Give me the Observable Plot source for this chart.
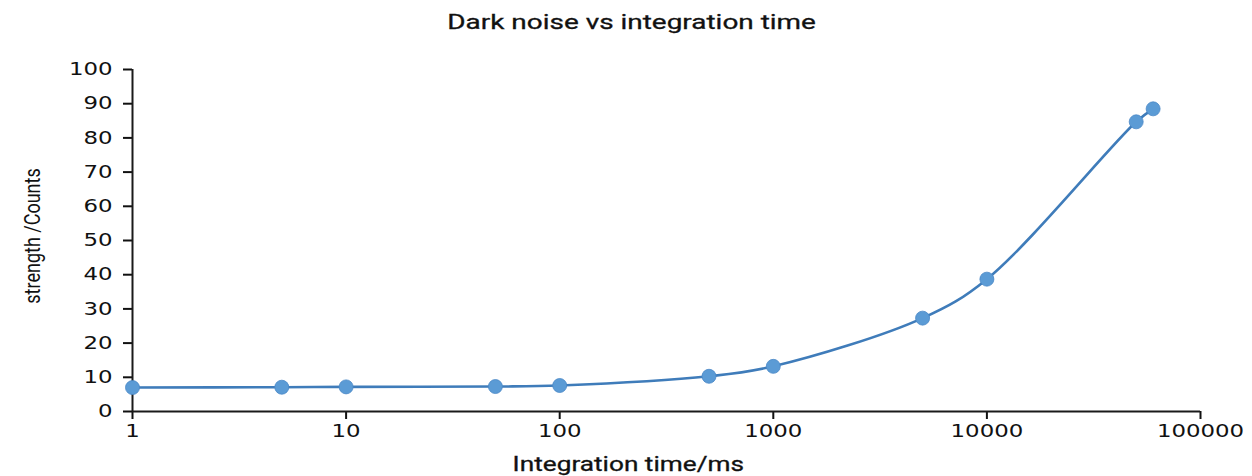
<!DOCTYPE html>
<html>
<head>
<meta charset="utf-8">
<script src="https://cdn.jsdelivr.net/npm/d3@7"></script>
<script src="https://cdn.jsdelivr.net/npm/@observablehq/plot@0.6"></script>
<style>
  html, body { margin: 0; padding: 0; background: #fff; }
  #wrap { position: relative; width: 1252px; height: 476px; overflow: hidden; }
  #title { height: 40px; line-height: 44px; text-align: center; font-family: Roboto, sans-serif; font-weight: 400; font-size: 21px; color: #111; -webkit-text-stroke: 0.3px #111; padding-left: 12px; }
  #title span { display: inline-block; transform: scaleX(1.33); }
  #xtitle span { display: inline-block; transform: scaleX(1.31); }
  #xtitle { height: 26px; line-height: 28px; text-align: center; font-family: Roboto, sans-serif; font-weight: 400; font-size: 20px; color: #111; padding-left: 4px; -webkit-text-stroke: 0.3px #111; }
  #ytitle { position: absolute; left: 32px; top: 236px; transform: translate(-50%, -50%) scaleX(1.25) rotate(-90deg); white-space: nowrap; font-family: Roboto, sans-serif; font-size: 18px; color: #111; }
  #chart g[aria-label$="tick label"] { font-size: 18px; font-family: "DejaVu Sans", sans-serif; }
</style>
</head>
<body>
<div id="wrap">
  <div id="title"><span>Dark noise vs integration time</span></div>
  <div id="chart"></div>
  <div id="xtitle"><span>Integration time/ms</span></div>
  <div id="ytitle">strength /Counts</div>
</div>
<script>
const times = [1, 5, 10, 50, 100, 500, 1000, 5000, 10000, 50000, 60000];
const counts = [7.0, 7.1, 7.2, 7.3, 7.6, 10.3, 13.2, 27.3, 38.7, 84.7, 88.5];
const xTicks = [1, 10, 100, 1000, 10000, 100000];
const xTickLabels = ["1", "10", "100", "1000", "10000", "100000"];
const yTicks = [0, 10, 20, 30, 40, 50, 60, 70, 80, 90, 100];

const data = times.map((t, i) => ({time: t, count: counts[i]}));
const xLabelOf = (d) => xTickLabels[xTicks.indexOf(+d)] ?? String(d);

const chart = Plot.plot({
  width: 1252,
  height: 410,
  marginLeft: 132,
  marginRight: 52,
  marginTop: 29,
  marginBottom: 39,
  style: {fontFamily: "DejaVu Sans, sans-serif", fontSize: "18px", color: "#111", overflow: "visible"},
  x: {type: "log", domain: [1, 100000]},
  y: {domain: [0, 100]},
  marks: [
    Plot.axisX({ticks: xTicks, tickFormat: xLabelOf, tickSize: 8, tickPadding: 5, strokeWidth: 2, label: null}),
    Plot.axisY({ticks: yTicks, tickSize: 9, tickPadding: 11, strokeWidth: 2, label: null}),
    Plot.ruleY([0], {stroke: "#1a1a1a", strokeWidth: 2}),
    Plot.ruleX([1], {stroke: "#1a1a1a", strokeWidth: 2}),
    Plot.line(data, {x: "time", y: "count", curve: "catmull-rom", stroke: "#3f7cba", strokeWidth: 2.6}),
    Plot.dot(data, {x: "time", y: "count", r: 7, fill: "#5b9bd5", stroke: "#4a88c6", strokeWidth: 0.8})
  ]
});
// widen tick-label glyphs horizontally around their anchor points, as in the reference
chart.querySelectorAll('g[aria-label$="tick label"] text').forEach((t) => {
  const tr = t.getAttribute("transform") || "";
  t.setAttribute("transform", tr + " scale(1.27,1)");
});
document.getElementById("chart").appendChild(chart);
</script>
</body>
</html>
